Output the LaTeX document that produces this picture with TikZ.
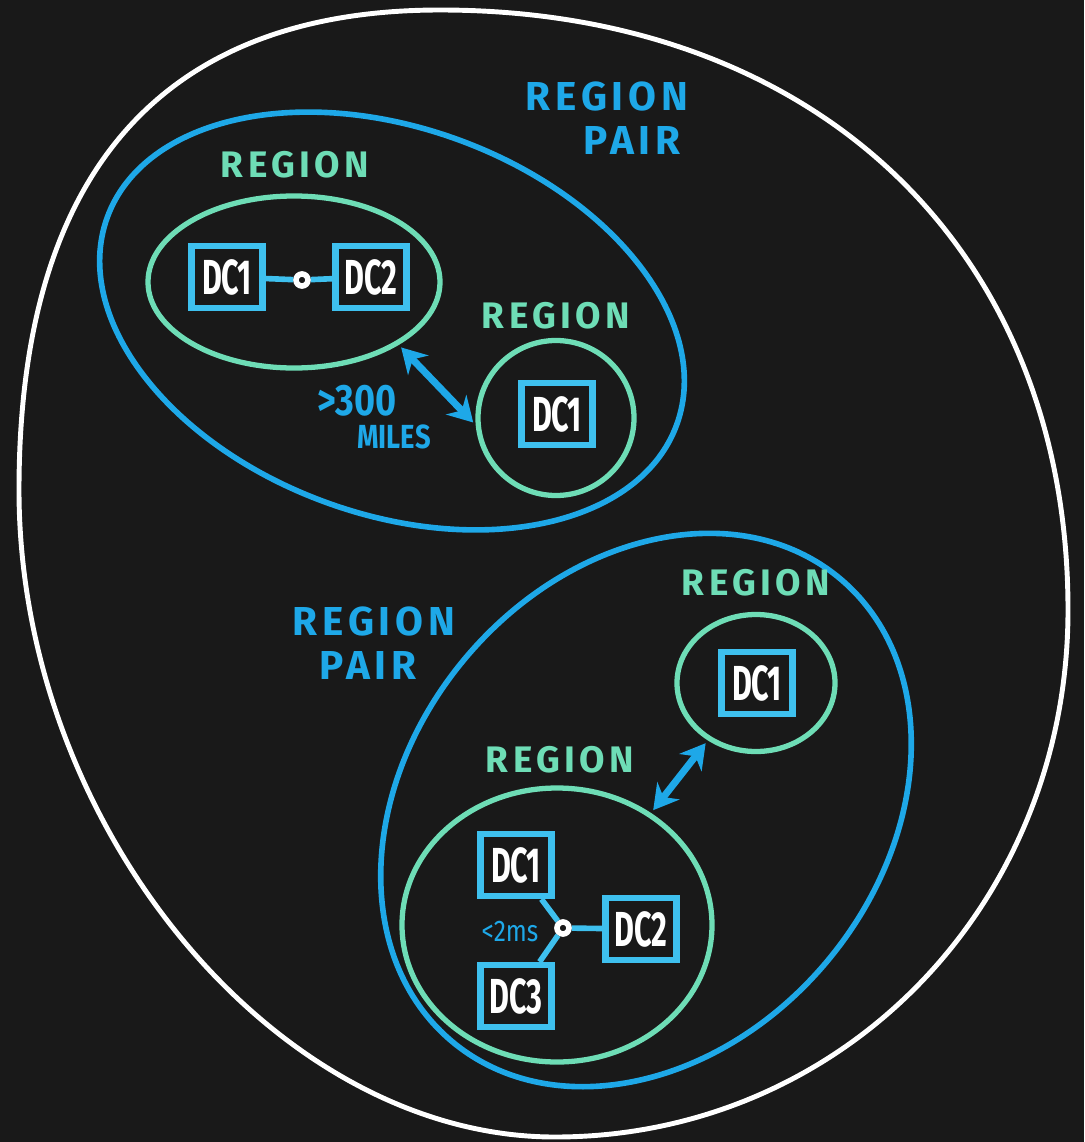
\documentclass[tikz,border=0pt]{standalone}
\usepackage{fontspec}
\newfontfamily\handfont[LetterSpace=12]{Fira Sans}
\newfontfamily\dcfont[FakeStretch=0.62]{Fira Sans}
\newfontfamily\notefont[FakeStretch=0.82]{Fira Sans}
\usepackage{tikz}
\usetikzlibrary{positioning,arrows.meta,shapes.geometric}
\definecolor{bgdark}{HTML}{191919}
\definecolor{pairblue}{HTML}{1EA8E8}
\definecolor{regiongreen}{HTML}{6EDDB6}
\definecolor{boxblue}{HTML}{3EC0EE}

\begin{document}
\begin{tikzpicture}[
  x=0.1mm,y=-0.1mm,
  outerring/.style={white,line width=1.4pt},
  pairring/.style={pairblue,line width=1.6pt},
  regionring/.style={ellipse,draw=regiongreen,line width=1.5pt,inner sep=0pt},
  dcbox/.style={draw=boxblue,line width=1.8pt,fill=bgdark,text=white,
    minimum width=0.71cm,minimum height=0.62cm,inner sep=0pt,
    font=\dcfont\bfseries\fontsize{14}{14}\selectfont},
  hub/.style={circle,draw=white,line width=1.6pt,fill=bgdark,
    minimum size=0.12cm,inner sep=0pt},
  link/.style={boxblue,line width=1.6pt},
  span/.style={pairblue,line width=2pt,
    {Stealth[length=7pt,width=8pt]}-{Stealth[length=7pt,width=8pt]},
    shorten <=1pt,shorten >=1pt},
  regionlabel/.style={text=regiongreen,
    font=\handfont\bfseries\fontsize{10.5}{12}\selectfont},
  pairlabel/.style={text=pairblue,
    font=\handfont\bfseries\fontsize{11.5}{12}\selectfont},
  notelabel/.style={text=pairblue,inner sep=0pt}
]
  % 背景
  \useasboundingbox (0,0) rectangle (1084,1142);
  \fill[bgdark] (0,0) rectangle (1084,1142);

  % 外側の輪郭
  \draw[outerring] (19,490)
    .. controls (19,173) and (162,10) .. (440,10)
    .. controls (817,10) and (1068,250) .. (1068,610)
    .. controls (1068,905) and (842,1137) .. (555,1137)
    .. controls (276,1137) and (19,826) .. (19,490) -- cycle;

  % リージョンペア
  \draw[pairring,rotate around={-20:(392,321)}]
    (392,321) ellipse [x radius=303,y radius=193];
  \draw[pairring,rotate around={50:(646,810)}]
    (646,810) ellipse [x radius=302,y radius=236];
  \node[pairlabel] (pairAtop) at (607,96)  {REGION};
  \node[pairlabel] (pairAbot) at (632,140) {PAIR};
  \node[pairlabel] (pairBtop) at (374,621) {REGION};
  \node[pairlabel] (pairBbot) at (368,665) {PAIR};

  % リージョン
  \node[regionring,minimum width=2.92cm,minimum height=1.72cm]
    (regA) at (294,282) {};
  \node[regionring,minimum width=1.56cm,minimum height=1.55cm]
    (regB) at (556,418) {};
  \node[regionring,minimum width=1.58cm,minimum height=1.37cm]
    (regD) at (756,683) {};
  \node[regionring,minimum width=3.10cm,minimum height=2.74cm]
    (regE) at (557,925) {};
  \node[regionlabel] (labA) at (295,165) {REGION};
  \node[regionlabel] (labB) at (556,316) {REGION};
  \node[regionlabel] (labD) at (756,583) {REGION};
  \node[regionlabel] (labE) at (560,760) {REGION};

  % データセンター
  \node[dcbox] (dcA1) at (227,277) {DC1};
  \node[dcbox] (dcA2) at (371,277) {DC2};
  \node[dcbox] (dcB1) at (557,414) {DC1};
  \node[dcbox] (dcD1) at (757,683) {DC1};
  \node[dcbox] (dcE1) at (516,865) {DC1};
  \node[dcbox] (dcE2) at (641,929) {DC2};
  \node[dcbox] (dcE3) at (516,996) {DC3};

  % 接続点
  \node[hub] (hubA) at (302,280) {};
  \node[hub] (hubE) at (563,928) {};
  \draw[link] (dcA1) -- (hubA) -- (dcA2);
  \draw[link] (dcE1) -- (hubE);
  \draw[link] (dcE3) -- (hubE);
  \draw[link] (hubE) -- (dcE2);

  % リージョン間の距離
  \draw[span] (regA.-31) -- (regB.185);
  \draw[span] (regD.230) -- (regE.50);
  \node[notelabel,font=\notefont\bfseries\fontsize{12.5}{13}\selectfont]
    (far) at (357,401) {>300};
  \node[notelabel,font=\notefont\bfseries\fontsize{9.5}{10}\selectfont]
    (miles) at (394,437) {MILES};
  \node[notelabel,font=\notefont\fontsize{8.5}{9}\selectfont]
    (near) at (510,932) {<2ms};
\end{tikzpicture}
\end{document}
